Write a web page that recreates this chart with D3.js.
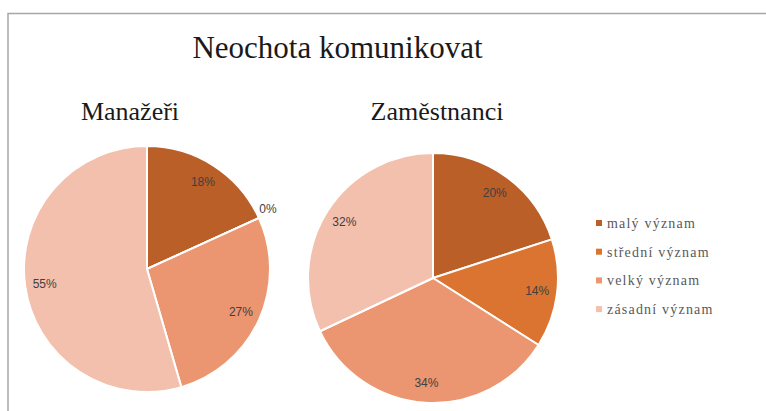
<!DOCTYPE html>
<html>
<head>
<meta charset="utf-8">
<script src="https://cdn.jsdelivr.net/npm/d3@7"></script>
<style>
  body { margin: 0; background: #fff; }
  svg { display: block; }
</style>
</head>
<body>
<svg id="chart"></svg>
<script>
// data
const categories = ["malý význam", "střední význam", "velký význam", "zásadní význam"];
const manazeri = [18.2, 0, 27.3, 54.5];
const zamestnanci = [20, 14, 34, 32];
const chartTitle = "Neochota komunikovat";
const pieTitles = ["Manažeři", "Zaměstnanci"];
const colors = ["#b95f27", "#db7430", "#eb9670", "#f2c0ac"];

const width = 766, height = 411;

const svg = d3.select("#chart")
    .attr("width", width)
    .attr("height", height);

// chart frame (only top and left edge visible)
svg.append("path")
    .attr("d", `M8,${height} L8,13.5 L${width},13.5`)
    .attr("fill", "none")
    .attr("stroke", "#a6a6a6")
    .attr("stroke-width", 1.5);

svg.append("text")
    .attr("x", 337.5)
    .attr("y", 58)
    .attr("text-anchor", "middle")
    .attr("font-family", "'Liberation Serif', 'Times New Roman', serif")
    .attr("font-size", 31)
    .attr("fill", "#1a1a1a")
    .text(chartTitle);

const color = d3.scaleOrdinal().domain(categories).range(colors);
const pct = d3.format(".0%");

const pies = [
  {title: pieTitles[0], values: manazeri, cx: 147, cy: 269, r: 123, tx: 130},
  {title: pieTitles[1], values: zamestnanci, cx: 433, cy: 278, r: 125, tx: 437}
];

const pie = d3.pie().sort(null).value(d => d.value);

pies.forEach(p => {
  const data = categories.map((c, i) => ({cat: c, value: p.values[i]}));
  const total = d3.sum(data, d => d.value);
  const arcs = pie(data);
  const arc = d3.arc().innerRadius(0).outerRadius(p.r);
  const labelArc = d3.arc().innerRadius(p.r * 0.84).outerRadius(p.r * 0.84);
  const outerArc = d3.arc().innerRadius(p.r * 1.08).outerRadius(p.r * 1.08);

  svg.append("text")
      .attr("x", p.tx)
      .attr("y", 120)
      .attr("text-anchor", "middle")
      .attr("font-family", "'Liberation Serif', 'Times New Roman', serif")
      .attr("font-size", 26)
      .attr("fill", "#1a1a1a")
      .text(p.title);

  const g = svg.append("g")
      .attr("transform", `translate(${p.cx},${p.cy})`);

  g.selectAll("path")
    .data(arcs)
    .join("path")
      .attr("d", arc)
      .attr("fill", d => color(d.data.cat))
      .attr("stroke", "#fff")
      .attr("stroke-width", 2)
      .attr("stroke-linejoin", "round");

  // zero slices get their label just outside the rim
  g.selectAll("text")
    .data(arcs)
    .join("text")
      .attr("transform", d => `translate(${(d.value === 0 ? outerArc : labelArc).centroid(d)})`)
      .attr("text-anchor", "middle")
      .attr("dy", d => d.value === 0 ? "-0.1em" : "0.35em")
      .attr("font-family", "'Liberation Sans', Arial, sans-serif")
      .attr("font-size", 12)
      .attr("fill", "#404040")
      .text(d => pct(d.value / total));
});

// legend
const legend = svg.append("g")
    .attr("transform", "translate(596,223)");

const item = legend.selectAll("g")
  .data(categories)
  .join("g")
    .attr("transform", (d, i) => `translate(0,${i * 28.7})`);

item.append("rect")
    .attr("x", 0)
    .attr("y", -3)
    .attr("width", 6)
    .attr("height", 6)
    .attr("fill", d => color(d));

item.append("text")
    .attr("x", 11)
    .attr("dy", "0.35em")
    .attr("font-family", "'Liberation Serif', 'Times New Roman', serif")
    .attr("font-size", 14)
    .attr("letter-spacing", 1.2)
    .attr("fill", "#595959")
    .text(d => d);
</script>
</body>
</html>
